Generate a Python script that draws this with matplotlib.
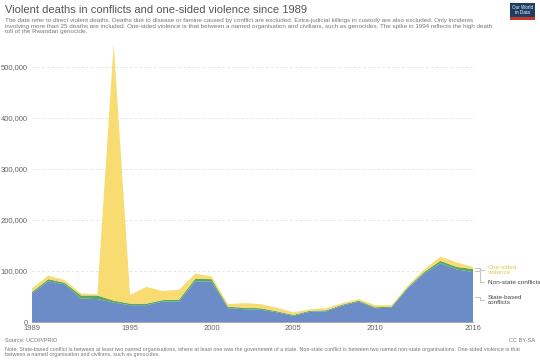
import matplotlib.pyplot as plt
from matplotlib.patches import Rectangle

plt.rcParams['font.family'] = ['Liberation Sans', 'DejaVu Sans']

# data (thousands of deaths)
years = list(range(1989, 2017))
state_based = [56, 80, 74, 46, 45, 38, 33, 33, 40, 40, 80, 79, 27, 25,
               24, 19, 12, 20, 21, 32, 40, 27, 28, 66, 95, 115, 103, 98]
non_state = [3, 4, 3, 6, 7, 4, 3, 3, 3, 4, 5, 5, 3, 3,
             3, 2, 2, 2, 2, 2, 2, 2, 2, 2, 3, 5, 5, 6]
one_sided = [7, 7, 5, 4, 2, 503, 17, 33, 18, 19, 10, 5, 5, 9,
             8, 7, 5, 3, 4, 3, 3, 4, 3, 3, 5, 8, 9, 4]
xticks = [1989, 1995, 2000, 2005, 2010, 2016]
yticks = [0, 100000, 200000, 300000, 400000, 500000]

c_state = '#6b8cc7'
c_non = '#5aa75e'
c_one = '#f8dc72'
grey = '#666666'

fig = plt.figure(figsize=(5.4, 3.61), dpi=100)
ax = fig.add_axes([0.0593, 0.108, 0.8167, 0.777])

s = [v * 1000 for v in state_based]
n = [v * 1000 for v in non_state]
o = [v * 1000 for v in one_sided]
ax.stackplot(years, s, n, o, colors=[c_state, c_non, c_one], linewidth=0)

ax.set_xlim(1989, 2016)
ax.set_ylim(0, 550000)
ax.set_xticks(xticks)
ax.set_yticks(yticks)
ax.set_yticklabels(['0' if v == 0 else f'{v:,}' for v in yticks])
ax.tick_params(axis='both', length=0, labelsize=5.5, colors=grey)
ax.tick_params(axis='x', pad=2.5)
ax.tick_params(axis='y', pad=3)
for sp in ['top', 'right', 'left']:
    ax.spines[sp].set_visible(False)
ax.spines['bottom'].set_color('#999999')
ax.spines['bottom'].set_linewidth(0.6)
ax.grid(axis='y', color='#dddddd', linewidth=0.5, linestyle=(0, (4, 3)))
ax.set_axisbelow(True)

# right-hand labels with little leader lines
lab = [((s[-1] / 2), 300, 'State-based\nconflicts', '#444444'),
       ((s[-1] + n[-1] / 2), 282, 'Non-state conflicts', '#444444'),
       ((s[-1] + n[-1] + o[-1] / 2), 270, 'One-sided\nviolence', '#e8c84a')]
for yv, ypx, txt, col in lab:
    yfig = 1 - ypx / 361
    xa = 0.876
    ydat = ax.transData.transform((0, yv))[1] / 361
    fig.add_artist(plt.Line2D([xa + 0.004, xa + 0.012, xa + 0.012, xa + 0.02],
                              [ydat, ydat, yfig, yfig],
                              color='#aaaaaa', lw=0.5))
    fig.text(0.903, yfig, txt, fontsize=4.6, color=col, va='center', ha='left',
             linespacing=1.0)

fig.text(0.009, 0.985, 'Violent deaths in conflicts and one-sided violence since 1989',
         fontsize=8.0, color='#555555', va='top', ha='left')
fig.text(0.009, 0.950,
         'The data refer to direct violent deaths. Deaths due to disease or famine caused by conflict are excluded. '
         'Extra-judicial killings in custody are also excluded. Only incidents\n'
         'involving more than 25 deaths are included. One-sided violence is that between a named organisation and '
         'civilians, such as genocides. The spike in 1994 reflects the high death\n'
         'toll of the Rwandan genocide.',
         fontsize=4.5, color='#777777', va='top', ha='left', linespacing=1.15)

# logo
fig.patches.append(Rectangle((0.945, 0.953), 0.045, 0.040, transform=fig.transFigure,
                             facecolor='#1d3d63', edgecolor='none'))
fig.patches.append(Rectangle((0.945, 0.945), 0.045, 0.008, transform=fig.transFigure,
                             facecolor='#c0392b', edgecolor='none'))
fig.text(0.9675, 0.973, 'Our World\nin Data', fontsize=3.3, color='white',
         ha='center', va='center', linespacing=1.0)

fig.text(0.009, 0.058, 'Source: UCDP/PRIO', fontsize=4.1, color='#777777', va='center')
fig.text(0.991, 0.058, 'CC BY-SA', fontsize=4.1, color='#777777', va='center', ha='right')
fig.text(0.009, 0.040,
         'Note: State-based conflict is between at least two named organisations, where at least one was the '
         'government of a state. Non-state conflict is between two named non-state organisations. One-sided violence is that\n'
         'between a named organisation and civilians, such as genocides.',
         fontsize=3.9, color='#777777', va='top', ha='left', linespacing=1.15)

fig.savefig('out.png', dpi=100)
